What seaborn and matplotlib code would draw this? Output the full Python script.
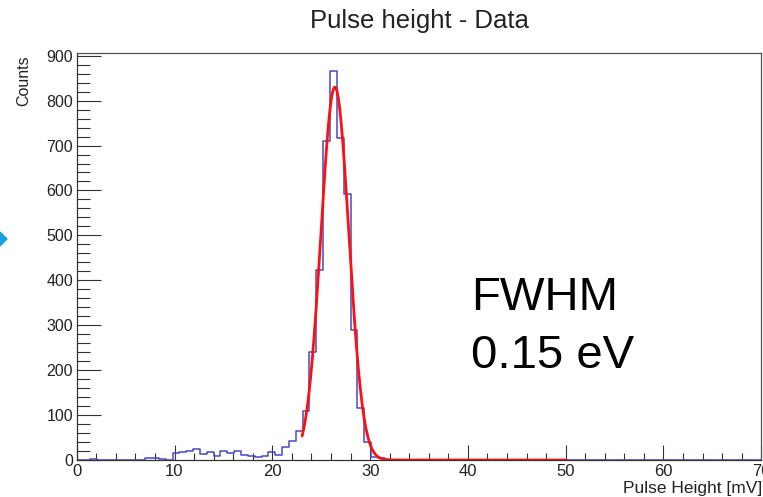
import numpy as np
import pandas as pd
import matplotlib
matplotlib.use("Agg")
import matplotlib.pyplot as plt
from matplotlib.patches import Polygon
from matplotlib.ticker import MultipleLocator
import seaborn as sns

# ---- data ----
bin_edges_range = (0.0, 70.0)
n_bins = 100
counts = [0, 0, 2, 0, 0, 0, 0, 0, 1, 1,
          4, 4, 3, 1, 16, 17, 20, 24, 14, 18,
          10, 20, 15, 20, 12, 8, 6, 10, 18, 12,
          28, 42, 65, 110, 241, 424, 711, 865, 717, 593,
          290, 115, 39, 7, 4, 1, 0, 1, 0, 1,
          0, 0, 1, 0, 0, 0, 0, 0, 0, 0,
          0, 0, 0, 0, 0, 0, 0, 0, 0, 0,
          0, 0, 0, 0, 0, 0, 0, 0, 0, 0,
          0, 0, 0, 0, 0, 0, 0, 0, 0, 0,
          0, 0, 0, 0, 0, 0, 0, 0, 0, 0]
fit_amplitude = 830.0
fit_mean = 26.40
fit_sigma = 1.43
fit_range = (23.05, 50.0)
x_ticks = [0, 10, 20, 30, 40, 50, 60, 70]
y_ticks = [0, 100, 200, 300, 400, 500, 600, 700, 800, 900]
title = "Pulse height - Data"
x_title = "Pulse Height [mV]"
y_title = "Counts"
note_lines = ["FWHM", "0.15 eV"]

# ---- build frames ----
edges = np.linspace(bin_edges_range[0], bin_edges_range[1], n_bins + 1)
centers = 0.5 * (edges[:-1] + edges[1:])
hist_df = pd.DataFrame({"x": centers, "w": np.asarray(counts, dtype=float)})
xf = np.linspace(fit_range[0], fit_range[1], 600)
fit_df = pd.DataFrame({"x": xf,
                       "y": fit_amplitude * np.exp(-0.5 * ((xf - fit_mean) / fit_sigma) ** 2)})

sns.set_theme(style="ticks")
plt.rcParams["font.family"] = ["Liberation Sans", "DejaVu Sans"]

W, H = 763, 497
fig = plt.figure(figsize=(W / 100, H / 100), dpi=100)
ax = fig.add_axes([76.7 / W, (H - 460) / H, 684.6 / W, (460 - 53) / H])

sns.histplot(data=hist_df, x="x", weights="w", bins=n_bins, binrange=bin_edges_range,
             element="step", fill=False, color="#4848c8", linewidth=1.1, ax=ax)
sns.lineplot(data=fit_df, x="x", y="y", color="#ff1010", linewidth=2.0, ax=ax)

ax.set_xlim(0, 70)
ax.set_ylim(0, 906)
ax.set_xlabel("")
ax.set_ylabel("")
ax.set_xticks(x_ticks)
ax.set_yticks(y_ticks)
ax.xaxis.set_minor_locator(MultipleLocator(2))
ax.yaxis.set_minor_locator(MultipleLocator(20))
ax.tick_params(axis="x", which="major", direction="in", length=10.8, width=0.8,
               color="#333333", labelsize=12, pad=3, labelcolor="#222222")
ax.tick_params(axis="x", which="minor", direction="in", length=5, width=0.8, color="#333333")
ax.tick_params(axis="y", which="major", direction="in", length=17.3, width=0.8,
               color="#333333", labelsize=11.5, pad=2.5, labelcolor="#222222")
ax.tick_params(axis="y", which="minor", direction="in", length=9.4, width=0.8, color="#333333")
for s in ["left", "bottom", "top", "right"]:
    ax.spines[s].set_visible(True)
    ax.spines[s].set_linewidth(0.9)
ax.spines["left"].set_color("#333333")
ax.spines["bottom"].set_color("#333333")
ax.spines["top"].set_color("#555555")
ax.spines["right"].set_color("#555555")

fig.text(419 / W, 1 - 28 / H, title, ha="center", va="baseline", fontsize=18.5, color="#222222")
fig.text(24 / W, 1 - 55 / H, y_title, rotation=90, ha="center", va="top",
         fontsize=11.5, color="#222222")
fig.text(762 / W, 1 - 493 / H, x_title, ha="right", va="baseline", fontsize=12.5, color="#222222")
fig.text(471 / W, 1 - 310 / H, note_lines[0], ha="left", va="baseline", fontsize=34, color="black")
fig.text(471 / W, 1 - 368 / H, note_lines[1], ha="left", va="baseline", fontsize=34, color="black")

# small cyan arrow artifact at the left edge
tri = Polygon([[0 / W, 1 - 232 / H], [7 / W, 1 - 239 / H], [0 / W, 1 - 246 / H]],
              closed=True, transform=fig.transFigure, color="#1ea0dc")
fig.add_artist(tri)

fig.savefig("out.png", dpi=100)
